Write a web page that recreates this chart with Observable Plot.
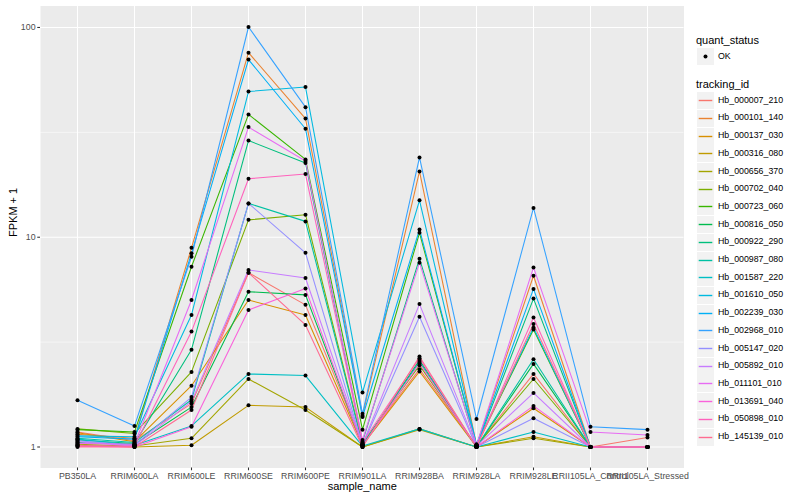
<!DOCTYPE html>
<html>
<head>
<meta charset="utf-8">
<script src="https://cdn.jsdelivr.net/npm/d3@7"></script>
<script src="https://cdn.jsdelivr.net/npm/@observablehq/plot@0.6"></script>
<style>
  html, body { margin: 0; padding: 0; background: white; }
  #wrap { position: relative; width: 800px; height: 500px; font-family: "Liberation Sans", Arial, sans-serif; }
  #legend { position: absolute; left: 0; top: 0; width: 800px; height: 500px; pointer-events: none; }
  .lt { position: absolute; font-size: 11px; color: #000; white-space: nowrap; line-height: 1; }
  .ll { position: absolute; font-size: 8.8px; color: #000; white-space: nowrap; line-height: 1; }
  .key { position: absolute; width: 17px; height: 17px; background: #F2F2F2; }
</style>
</head>
<body>
<div id="wrap"><div id="chart"></div><div id="legend"></div></div>
<script>
// ---- data ----
const samples = ["PB350LA","RRIM600LA","RRIM600LE","RRIM600SE","RRIM600PE","RRIM901LA","RRIM928BA","RRIM928LA","RRIM928LE","RRII105LA_Control","RRII105LA_Stressed"];
const trackingIds = ["Hb_000007_210","Hb_000101_140","Hb_000137_030","Hb_000316_080","Hb_000656_370","Hb_000702_040","Hb_000723_060","Hb_000816_050","Hb_000922_290","Hb_000987_080","Hb_001587_220","Hb_001610_050","Hb_002239_030","Hb_002968_010","Hb_005147_020","Hb_005892_010","Hb_011101_010","Hb_013691_040","Hb_050898_010","Hb_145139_010"];
const colors = ["#F8766D","#EA8331","#D89000","#C09B00","#A3A500","#7CAE00","#39B600","#00BB4E","#00BF7D","#00C1A3","#00BFC4","#00BAE0","#00B0F6","#35A2FF","#9590FF","#C77CFF","#E76BF3","#FA62DB","#FF62BC","#FF6C91"];
const quantStatus = ["OK"];
// FPKM + 1 per sample, in trackingIds order
const PB350LA    = [1.18,1.15,1.17,1.02,1.03,1.22,1.21,1.05,1.08,1.10,1.09,1.13,1.12,1.67,1.07,1.06,1.04,1.01,1.01,1.00];
const RRIM600LA  = [1.07,1.10,1.06,1.00,1.01,1.16,1.18,1.03,1.04,1.05,1.02,1.12,1.09,1.26,1.02,1.01,1.03,1.00,1.01,1.00];
const RRIM600LE  = [1.61,8.90,1.96,1.02,1.10,2.28,7.23,1.55,2.91,1.68,1.26,4.26,8.38,8.07,1.73,1.65,5.02,1.25,3.55,1.50];
const RRIM600SE  = [6.77,75.8,5.02,1.58,2.11,12.1,38.5,5.50,28.9,14.5,2.23,49.5,70.3,100.5,14.5,6.98,33.5,4.50,19.0,6.77];
const RRIM600PE  = [4.76,36.8,4.26,1.55,1.50,12.8,23.5,5.31,22.6,11.9,2.19,52.0,32.9,41.7,8.43,6.39,23.1,5.69,20.0,3.82];
const RRIM901LA  = [1.03,1.41,1.02,1.00,1.00,1.04,1.21,1.02,1.06,1.03,1.01,1.82,1.39,1.44,1.02,1.03,1.08,1.01,1.05,1.00];
const RRIM928BA  = [2.35,20.6,2.29,1.21,1.22,2.45,10.5,2.60,7.90,2.55,1.22,15.0,10.9,24.0,4.18,4.80,7.56,2.50,2.65,2.70];
const RRIM928LA  = [1.01,1.02,1.00,1.00,1.00,1.01,1.02,1.00,1.01,1.00,1.00,1.03,1.02,1.36,1.00,1.01,1.02,1.00,1.00,1.00];
const RRIM928LE  = [2.23,6.55,1.53,1.12,1.10,2.11,3.63,2.49,5.10,2.62,1.18,3.70,5.67,13.8,1.37,1.81,7.18,1.57,4.14,3.86];
const RRII105LA_Control  = [1.00,1.00,1.00,1.00,1.00,1.00,1.00,1.00,1.00,1.00,1.00,1.00,1.00,1.25,1.00,1.00,1.18,1.00,1.00,1.00];
const RRII105LA_Stressed = [1.11,1.00,1.00,1.00,1.00,1.00,1.00,1.00,1.00,1.00,1.00,1.00,1.00,1.21,1.00,1.00,1.14,1.00,1.00,1.00];
const columns = [PB350LA,RRIM600LA,RRIM600LE,RRIM600SE,RRIM600PE,RRIM901LA,RRIM928BA,RRIM928LA,RRIM928LE,RRII105LA_Control,RRII105LA_Stressed];
const yTicks = [1, 10, 100];

// ---- table ----
const rows = [];
trackingIds.forEach((id, i) => {
  samples.forEach((s, j) => rows.push({tracking_id: id, sample_name: s, fpkm: columns[j][i], quant_status: "OK"}));
});
const vals = rows.map(d => d.fpkm);
const lo = Math.log10(d3.min(vals)), hi = Math.log10(d3.max(vals));
const pad = 0.05 * (hi - lo);
const yDomain = [Math.pow(10, lo - pad), Math.pow(10, hi + pad)];
const minor = [Math.sqrt(10), Math.sqrt(1000)];

const font = "'Liberation Sans', Arial, sans-serif";
const chart = Plot.plot({
  width: 690, height: 500,
  marginLeft: 40, marginRight: 6.5, marginTop: 5.5, marginBottom: 32.5,
  style: {fontFamily: font, background: "white", overflow: "visible"},
  x: {type: "point", domain: samples, padding: 0.6, label: null},
  y: {type: "log", domain: yDomain, label: null},
  color: {domain: trackingIds, range: colors},
  marks: [
    Plot.frame({fill: "#EBEBEB", stroke: null}),
    Plot.gridY(minor, {stroke: "white", strokeOpacity: 1, strokeWidth: 0.53}),
    Plot.gridY(yTicks, {stroke: "white", strokeOpacity: 1, strokeWidth: 1.07}),
    Plot.gridX(samples, {stroke: "white", strokeOpacity: 1, strokeWidth: 1.07}),
    Plot.axisY(yTicks, {tickSize: 2.75, tickPadding: 2.2, tickFormat: d => String(d), fontSize: 8.8, fill: "#4D4D4D", stroke: "#333333", strokeWidth: 1.07, label: null}),
    Plot.axisX(samples, {tickSize: 2.75, tickPadding: 2.2, fontSize: 8.8, fill: "#4D4D4D", stroke: "#333333", strokeWidth: 1.07, label: null}),
    Plot.text(["FPKM + 1"], {frameAnchor: "left", rotate: -90, dx: -27, fontSize: 11, fill: "black"}),
    Plot.text(["sample_name"], {frameAnchor: "bottom", dy: 22, fontSize: 11, fill: "black"}),
    Plot.line(rows, {x: "sample_name", y: "fpkm", z: "tracking_id", stroke: "tracking_id", strokeWidth: 1.07}),
    Plot.dot(rows, {x: "sample_name", y: "fpkm", r: 2, fill: "black", stroke: null})
  ]
});
document.getElementById("chart").appendChild(chart);

// ---- legend (HTML, right of the panel) ----
const lg = document.getElementById("legend");
function add(cls, left, top, html) {
  const e = document.createElement("div");
  e.className = cls; e.style.left = left + "px"; e.style.top = top + "px";
  if (html !== undefined) e.innerHTML = html;
  lg.appendChild(e); return e;
}
const LX = 697, KEY = 17, STEP = 17.7;
add("lt", LX - 1, 35, "quant_status");
quantStatus.forEach((q, i) => {
  const cy = 56.7 + i * STEP;
  const k = add("key", LX, cy - KEY / 2);
  k.innerHTML = `<svg width="${KEY}" height="${KEY}"><circle cx="${KEY/2}" cy="${KEY/2}" r="2" fill="black"/></svg>`;
  add("ll", LX + 21, cy - 5, q);
});
add("lt", LX - 1, 78.5, "tracking_id");
trackingIds.forEach((id, i) => {
  const cy = 100.7 + i * STEP;
  const k = add("key", LX, cy - KEY / 2);
  k.innerHTML = `<svg width="${KEY}" height="${KEY}"><line x1="1.7" x2="${KEY-1.7}" y1="${KEY/2}" y2="${KEY/2}" stroke="${colors[i]}" stroke-width="1.4"/></svg>`;
  add("ll", LX + 21, cy - 5, id);
});
</script>
</body>
</html>
